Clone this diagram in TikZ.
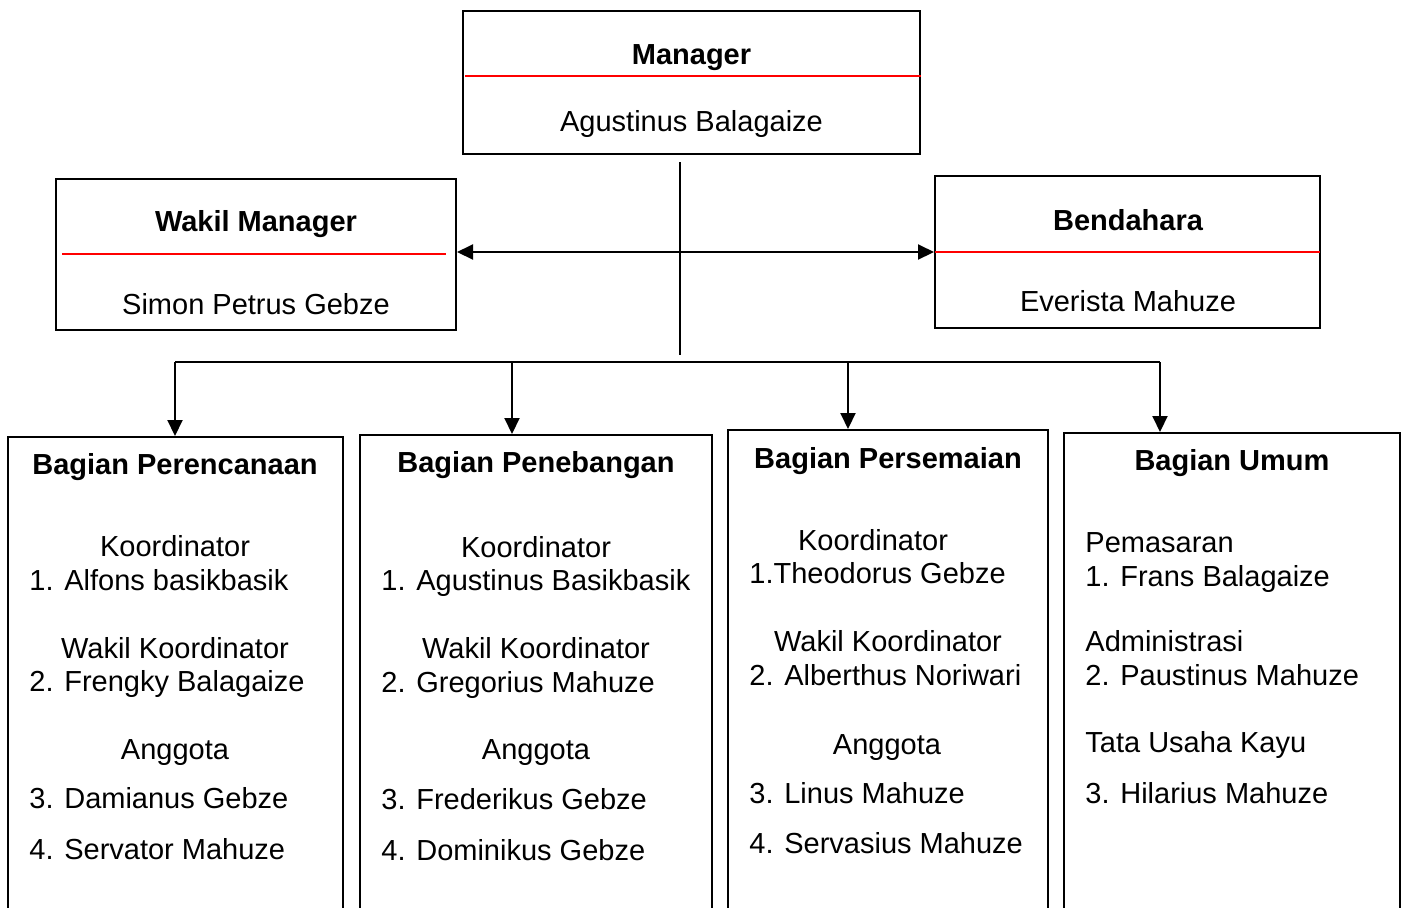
\documentclass[tikz,border=0pt]{standalone}
\usepackage{fontspec}
\setmainfont{Liberation Sans}
\usetikzlibrary{arrows.meta,fit}

\begin{document}
\begin{tikzpicture}[x=0.5pt,y=-0.5pt,
  box/.style={draw,line width=1pt,inner sep=0pt},
  ttl/.style={font=\fontsize{14.5}{17}\selectfont\bfseries,anchor=base,inner sep=0pt},
  txt/.style={font=\fontsize{14.5}{17}\selectfont,anchor=base,inner sep=0pt},
  lft/.style={txt,anchor=base west},
  sep/.style={red,line width=0.8pt},
  a/.style={-{Triangle[length=8pt,width=7.5pt]},line width=1pt}]
  \clip (0,0) rectangle (1403,907);
  % top row
  \node[box,fit={(463,11)(920,154)}] (mgr) {};
  \node[ttl] (mgrT) at (691.5,64) {Manager};
  \node[txt] (mgrN) at (691.5,131) {Agustinus Balagaize};
  \draw[sep] (465,76) -- (921,76);
  \node[box,fit={(56,179)(456,330)}] (wakil) {};
  \node[ttl] (wakilT) at (256,231) {Wakil Manager};
  \node[txt] (wakilN) at (256,314) {Simon Petrus Gebze};
  \draw[sep] (62,254) -- (446,254);
  \node[box,fit={(935,176)(1320,328)}] (bend) {};
  \node[ttl] (bendT) at (1128,230) {Bendahara};
  \node[txt] (bendN) at (1128,311) {Everista Mahuze};
  \draw[sep] (935,252) -- (1320,252);
  % bottom row (cut off at page edge)
  \node[box,fit={(8,437)(343,960)}] (renc) {};
  \node[box,fit={(360,435)(712,960)}] (tebang) {};
  \node[box,fit={(728,430)(1048,960)}] (semai) {};
  \node[box,fit={(1064,433)(1400,960)}] (umum) {};
  % connectors
  \coordinate (top) at (680,162);
  \coordinate (mid) at (680,252);
  \coordinate (bot) at (680,355);
  \draw[line width=1pt] (top) -- (bot);
  \draw[a] (mid) -- (wakil.east |- mid);
  \draw[a] (mid) -- (bend.west |- mid);
  \coordinate (b1) at (175,362);
  \coordinate (b2) at (512,362);
  \coordinate (b3) at (848,362);
  \coordinate (b4) at (1160,362);
  \draw[line width=1pt] (b1) -- (b4);
  \draw[a] (b1) -- (b1 |- renc.north);
  \draw[a] (b2) -- (b2 |- tebang.north);
  \draw[a] (b3) -- (b3 |- semai.north);
  \draw[a] (b4) -- (b4 |- umum.north);
  % Bagian Perencanaan
  \node[ttl] (rencT) at (175,474) {Bagian Perencanaan};
  \node[txt] (renc1) at (175,556) {Koordinator};
  \node[lft] (renc2) at (29,590) {1. Alfons basikbasik};
  \node[txt] (renc3) at (175,658) {Wakil Koordinator};
  \node[lft] (renc4) at (29,691) {2. Frengky Balagaize};
  \node[txt] (renc5) at (175,759) {Anggota};
  \node[lft] (renc6) at (29,808) {3. Damianus Gebze};
  \node[lft] (renc7) at (29,859) {4. Servator Mahuze};
  % Bagian Penebangan
  \node[ttl] (tebangT) at (536,472) {Bagian Penebangan};
  \node[txt] (tebang1) at (536,557) {Koordinator};
  \node[lft] (tebang2) at (381,590) {1. Agustinus Basikbasik};
  \node[txt] (tebang3) at (536,658) {Wakil Koordinator};
  \node[lft] (tebang4) at (381,692) {2. Gregorius Mahuze};
  \node[txt] (tebang5) at (536,759) {Anggota};
  \node[lft] (tebang6) at (381,809) {3. Frederikus Gebze};
  \node[lft] (tebang7) at (381,860) {4. Dominikus Gebze};
  % Bagian Persemaian
  \node[ttl] (semaiT) at (888,468) {Bagian Persemaian};
  \node[txt] (semai1) at (873,550) {Koordinator};
  \node[lft] (semai2) at (749,583) {1.Theodorus Gebze};
  \node[txt] (semai3) at (888,651) {Wakil Koordinator};
  \node[lft] (semai4) at (749,685) {2. Alberthus Noriwari};
  \node[txt] (semai5) at (887,754) {Anggota};
  \node[lft] (semai6) at (749,803) {3. Linus Mahuze};
  \node[lft] (semai7) at (749,853) {4. Servasius Mahuze};
  % Bagian Umum
  \node[ttl] (umumT) at (1232,470) {Bagian Umum};
  \node[lft] (umum1) at (1085,552) {Pemasaran};
  \node[lft] (umum2) at (1085,586) {1. Frans Balagaize};
  \node[lft] (umum3) at (1085,651) {Administrasi};
  \node[lft] (umum4) at (1085,685) {2. Paustinus Mahuze};
  \node[lft] (umum5) at (1085,752) {Tata Usaha Kayu};
  \node[lft] (umum6) at (1085,803) {3. Hilarius Mahuze};
\end{tikzpicture}
\end{document}
